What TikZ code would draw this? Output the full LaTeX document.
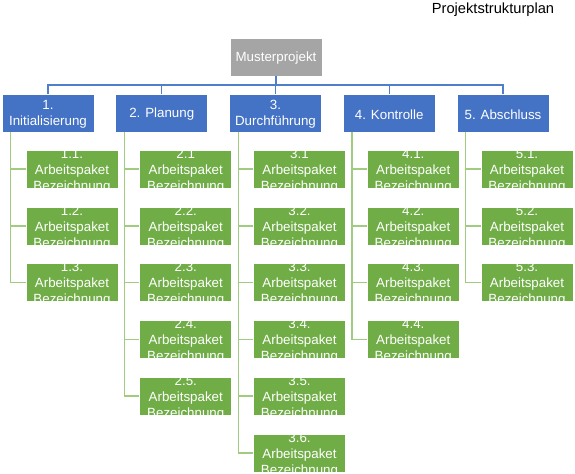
\documentclass[tikz,border=0pt]{standalone}
\usepackage{fontspec}
\setmainfont{Liberation Sans}
\usetikzlibrary{calc}
\definecolor{pspgrau}{HTML}{A5A5A5}
\definecolor{pspblau}{HTML}{4472C4}
\definecolor{pspgruen}{HTML}{70AD47}
\definecolor{pspblaulinie}{HTML}{4F7FCB}
\definecolor{pspgruenlinie}{HTML}{9FCC7E}
\tikzset{
    psptext/.style={text=white,align=center,inner sep=0pt,font=\fontsize{10}{12}\selectfont},
    pspbox/.style={minimum width=69pt,minimum height=28.5pt,inner sep=0pt,draw=white,line width=.4pt},
    rootbox/.style={pspbox,fill=pspgrau},
    phasebox/.style={pspbox,fill=pspblau},
    pakbox/.style={pspbox,fill=pspgruen},
    busline/.style={pspblaulinie,line width=1.1pt},
    pakline/.style={pspgruenlinie,line width=1.1pt},
}
\begin{document}
\begin{tikzpicture}[x=.75pt,y=-.75pt]
    \useasboundingbox (0,0) rectangle (575,474);

    % title
    \node[font=\fontsize{11}{13}\selectfont] (titel) at (493,10) {Projektstrukturplan};

    % project
    \node[rootbox] (root) at (276,57) {};
    \node[psptext] (roottext) at ($(root.center)+(0,1.5)$) {Musterprojekt};
    \coordinate (bus) at (276,85);

    % phases
    \foreach \k/\name in {1/{1.\\Initialisierung},2/{2. Planung},3/{3.\\Durchführung},4/{4. Kontrolle},5/{5. Abschluss}}{
        \pgfmathsetmacro{\px}{48+(\k-1)*113.75}
        \node[phasebox] (p\k) at (\px,113) {};
        \node[psptext] (pt\k) at ($(p\k.center)+(0,1.5)$) {\name};
        \draw[busline] (root.south) -- (root.south |- bus) -| (p\k.north);
        \coordinate (s\k) at ($(p\k.south west)+(9,0)$);
    }

    % work packages
    \foreach \k/\lbls in {1/{1.1.,1.2.,1.3.},2/{2.1,2.2.,2.3.,2.4.,2.5.},3/{3.1,3.2.,3.3.,3.4.,3.5.,3.6.},4/{4.1.,4.2.,4.3.,4.4.},5/{5.1.,5.2.,5.3.}}{
        \pgfmathsetmacro{\wx}{72+(\k-1)*113.75}
        \foreach \lbl [count=\j] in \lbls {
            \pgfmathsetmacro{\wy}{169+(\j-1)*56.8}
            \draw[pakline] (s\k) |- (\wx-46,\wy);
            \node[pakbox] (w\k\j) at (\wx,\wy) {};
            \begin{scope}
                \clip (w\k\j.south west) rectangle (w\k\j.north east);
                \node[psptext] (t\k\j) at ($(w\k\j.center)+(0,2)$) {\lbl\\Arbeitspaket\\Bezeichnung};
            \end{scope}
        }
    }
\end{tikzpicture}
\end{document}
